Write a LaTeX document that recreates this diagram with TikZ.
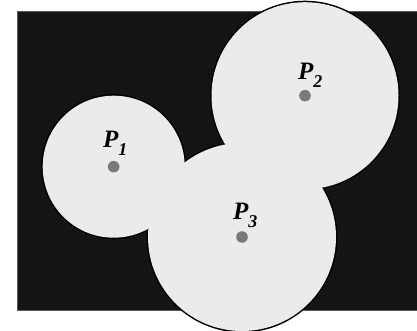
\documentclass[tikz,border=0pt]{standalone}
\usepackage{fontspec}
\setmainfont{Liberation Serif}
\definecolor{bgdark}{HTML}{141414}
\definecolor{frame}{HTML}{5A5A5A}
\definecolor{disk}{HTML}{EBEBEB}
\definecolor{dotc}{HTML}{7A7A7A}
\tikzset{
  lbl/.style={anchor=base west, inner sep=0pt, font=\fontsize{25}{25}\selectfont\bfseries\itshape},
  ctr/.style={fill=dotc},
}
\newcommand{\plabel}[1]{P\raisebox{-0.32em}{\fontsize{18}{18}\selectfont #1}}
\begin{document}
\begin{tikzpicture}[x=1pt,y=-1pt]
\useasboundingbox (0,0) rectangle (417,331);
\fill[bgdark] (17.5,11.5) rectangle (430,310.5);
\draw[frame, line width=1.2pt] (430,11.5) -- (17.5,11.5) -- (17.5,310.5) -- (430,310.5);
\coordinate (c1) at (113.7,166.7);
\coordinate (c2) at (305,95.7);
\coordinate (c3) at (242,237);
% outlines
\draw[black, line width=3pt] (c1) circle[radius=71];
\draw[black, line width=3pt] (c2) circle[radius=93.5];
\draw[black, line width=3pt] (c3) circle[radius=94];
% fills
\fill[disk] (c1) circle[radius=71];
\fill[disk] (c2) circle[radius=93.5];
\fill[disk] (c3) circle[radius=94];
% centre dots
\fill[ctr] (c1) circle[radius=5.8];
\fill[ctr] (c2) circle[radius=5.8];
\fill[ctr] (c3) circle[radius=5.8];
% labels
\node[lbl] (l1) at (103,148) {\plabel{1}};
\node[lbl] (l2) at (298,79.3) {\plabel{2}};
\node[lbl] (l3) at (233,219) {\plabel{3}};
\end{tikzpicture}
\end{document}
